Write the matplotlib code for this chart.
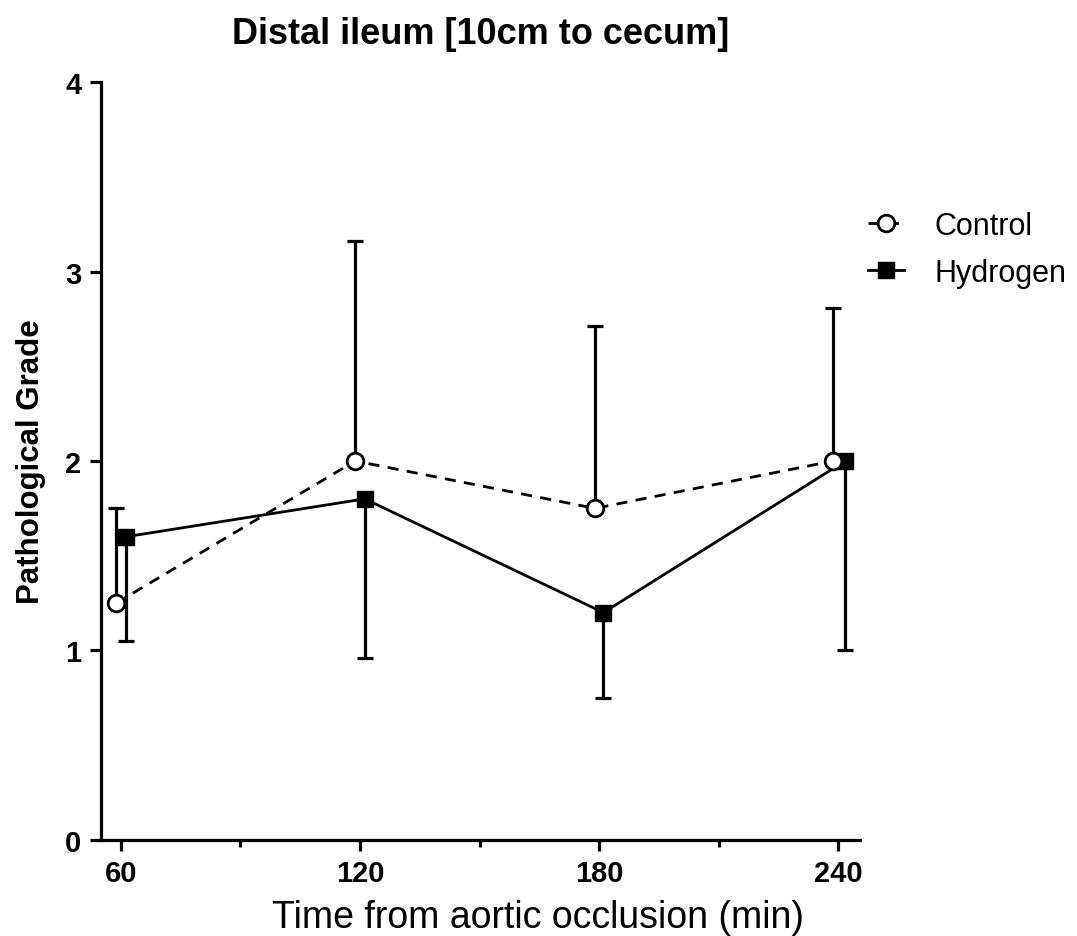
import matplotlib
matplotlib.use("Agg")
import matplotlib.pyplot as plt
from matplotlib.ticker import MultipleLocator

plt.rcParams['font.family'] = ['Liberation Sans', 'DejaVu Sans']

times = [60, 120, 180, 240]
control = [1.25, 2.0, 1.75, 2.0]
control_err_up = [0.50, 1.16, 0.96, 0.81]
hydrogen = [1.6, 1.8, 1.2, 2.0]
hydrogen_err_down = [0.55, 0.84, 0.45, 1.0]

# small horizontal nudge so the two groups don't sit on top of each other
shift_c = [-1.2, -1.2, -1.0, -1.2]
shift_h = [1.2, 1.2, 1.1, 1.8]

fig = plt.figure(figsize=(10.77, 9.37), dpi=100)
ax = fig.add_axes([0.0938, 0.1025, 0.7047, 0.8089])

xc = [t + s for t, s in zip(times, shift_c)]
xh = [t + s for t, s in zip(times, shift_h)]

ax.errorbar(xc, control, yerr=[[0] * 4, control_err_up], fmt='none',
            ecolor='black', elinewidth=2.3, capsize=5.5, capthick=2.3, zorder=2)
ax.errorbar(xh, hydrogen, yerr=[hydrogen_err_down, [0] * 4], fmt='none',
            ecolor='black', elinewidth=2.3, capsize=5.5, capthick=2.3, zorder=2)

ax.plot(xh, hydrogen, '-', color='black', lw=2.0, marker='s', ms=11,
        mfc='black', mec='black', label='Hydrogen', zorder=3)
ax.plot(xc, control, '--', color='black', lw=2.0, dashes=(4, 3), marker='o',
        ms=12, mfc='white', mec='black', mew=2.0, label='Control', zorder=4)

ax.set_xlim(55, 245.5)
ax.set_ylim(0, 4)
ax.xaxis.set_major_locator(MultipleLocator(60))
ax.xaxis.set_minor_locator(MultipleLocator(30))
ax.yaxis.set_major_locator(MultipleLocator(1))

for s in ['top', 'right']:
    ax.spines[s].set_visible(False)
for s in ['left', 'bottom']:
    ax.spines[s].set_linewidth(2.3)

ax.tick_params(axis='both', which='major', length=8, width=2.3, labelsize=21, pad=6)
ax.tick_params(axis='x', which='minor', length=5, width=2.3)
for lab in ax.get_xticklabels() + ax.get_yticklabels():
    lab.set_fontweight('bold')

ax.set_xlabel('Time from aortic occlusion (min)', fontsize=27, labelpad=5)
ax.xaxis.set_label_coords(0.576, -0.078)
ax.set_ylabel('Pathological Grade', fontsize=22.5, fontweight='bold', labelpad=14)
ax.set_title('Distal ileum [10cm to cecum]', fontsize=26, fontweight='bold', pad=28)

h, l = ax.get_legend_handles_labels()
ax.legend(h[::-1], l[::-1], loc='upper left', bbox_to_anchor=(0.982, 0.858),
          frameon=False, fontsize=22, handlelength=1.2, handletextpad=1.0,
          labelspacing=0.55, borderaxespad=0.3)

fig.savefig('out.png', dpi=100)
